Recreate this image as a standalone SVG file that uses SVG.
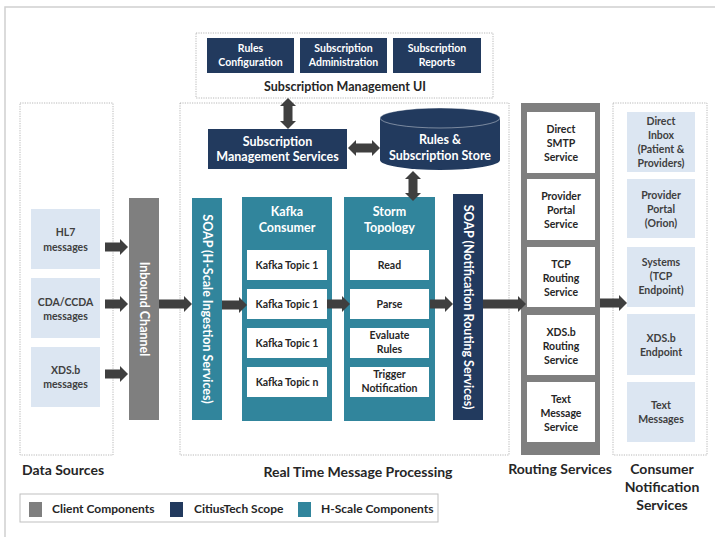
<svg xmlns="http://www.w3.org/2000/svg" width="715" height="537" viewBox="0 0 715 537">
<style>
text{font-family:Lato,"Open Sans","Liberation Sans",sans-serif;font-weight:bold;text-anchor:middle}
.w{fill:#ffffff}
.d{fill:#404040}
.k{fill:#262626}
.s{font-size:10.5px}
.m{font-size:12.5px}
.l{font-size:14px}
.navy{fill:#223A5E}
.teal{fill:#31859C}
.gray{fill:#7F7F7F}
.lb{fill:#DCE6F2}
.wb{fill:#ffffff}
.dot{fill:#ffffff;stroke:#A6A6A6;stroke-width:0.8;stroke-dasharray:1.2 1.2}
.arr{fill:#3F3F3F}
</style>
<rect x="5" y="7" width="720" height="540" fill="#ffffff" stroke="#D0D0D0" stroke-width="1.5"/>

<g id="data-sources">
<rect class="dot" x="20" y="103" width="93" height="352"/>
<g id="hl7"><rect class="lb" x="31" y="209" width="69" height="60"/><text class="s d" x="65.5" y="236">HL7</text><text class="s d" x="65.5" y="251">messages</text></g>
<g id="cda"><rect class="lb" x="31" y="278" width="69" height="60"/><text class="s d" x="65.5" y="306">CDA/CCDA</text><text class="s d" x="65.5" y="320">messages</text></g>
<g id="xds"><rect class="lb" x="31" y="347" width="69" height="60"/><text class="s d" x="65.5" y="374">XDS.b</text><text class="s d" x="65.5" y="388">messages</text></g>
<text class="l k" x="63" y="475">Data Sources</text>
</g>

<g id="inbound-channel">
<rect class="gray" x="129" y="198" width="30" height="222"/>
<text class="m w" transform="translate(144,309) rotate(90)" dy="4.5">Inbound Channel</text>
</g>

<g id="sub-ui">
<rect class="dot" x="196" y="33" width="297" height="65"/>
<g id="rules-config"><rect class="navy" x="207" y="38" width="87" height="35"/><text class="s w" x="250.5" y="52">Rules</text><text class="s w" x="250.5" y="66">Configuration</text></g>
<g id="sub-admin"><rect class="navy" x="300" y="38" width="87" height="35"/><text class="s w" x="343.5" y="52">Subscription</text><text class="s w" x="343.5" y="66">Administration</text></g>
<g id="sub-reports"><rect class="navy" x="393" y="38" width="88" height="35"/><text class="s w" x="437" y="52">Subscription</text><text class="s w" x="437" y="66">Reports</text></g>
<text class="m k" x="345" y="91">Subscription Management UI</text>
</g>

<g id="rtmp">
<rect class="dot" x="180" y="103" width="329" height="352"/>
<text class="l k" x="358" y="477">Real Time Message Processing</text>
</g>

<g id="sms">
<rect class="navy" x="208" y="129" width="139" height="40"/>
<text class="m w" x="277.5" y="146">Subscription</text>
<text class="m w" x="277.5" y="161">Management Services</text>
</g>

<g id="store">
<path class="navy" d="M380,118 A60,10 0 0 1 500,118 V160 A60,10 0 0 1 380,160 Z"/>
<ellipse cx="440" cy="118" rx="60" ry="10" fill="none" stroke="#ffffff" stroke-opacity="0.5" stroke-width="0.8"/>
<text class="m w" x="440" y="144">Rules &amp;</text>
<text class="m w" x="440" y="160">Subscription Store</text>
</g>

<g id="soap-ingest">
<rect class="teal" x="192" y="198" width="30" height="222"/>
<text class="m w" transform="translate(207,309) rotate(90)" dy="4.5">SOAP (H-Scale Ingestion Services)</text>
</g>

<g id="kafka">
<rect class="teal" x="242" y="197" width="90" height="224"/>
<text class="m w" x="287" y="216">Kafka</text>
<text class="m w" x="287" y="232">Consumer</text>
<rect class="wb" x="247" y="250" width="80" height="30"/><text class="s k" x="287" y="269">Kafka Topic 1</text>
<rect class="wb" x="247" y="289" width="80" height="30"/><text class="s k" x="287" y="308">Kafka Topic 1</text>
<rect class="wb" x="247" y="328" width="80" height="30"/><text class="s k" x="287" y="347">Kafka Topic 1</text>
<rect class="wb" x="247" y="367" width="80" height="30"/><text class="s k" x="287" y="386">Kafka Topic n</text>
</g>

<g id="storm">
<rect class="teal" x="344" y="197" width="91" height="224"/>
<text class="m w" x="389.5" y="216">Storm</text>
<text class="m w" x="389.5" y="232">Topology</text>
<rect class="wb" x="350" y="250" width="79" height="30"/><text class="s k" x="389.5" y="269">Read</text>
<rect class="wb" x="350" y="289" width="79" height="30"/><text class="s k" x="389.5" y="308">Parse</text>
<rect class="wb" x="350" y="328" width="79" height="30"/><text class="s k" x="389.5" y="339">Evaluate</text><text class="s k" x="389.5" y="353">Rules</text>
<rect class="wb" x="350" y="367" width="79" height="30"/><text class="s k" x="389.5" y="378">Trigger</text><text class="s k" x="389.5" y="392">Notification</text>
</g>

<g id="soap-notif">
<rect class="navy" x="453" y="194" width="30" height="226"/>
<text class="m w" transform="translate(468,307) rotate(90)" dy="4.5">SOAP (Notification Routing Services)</text>
</g>

<g id="routing">
<rect class="gray" x="521" y="103" width="79" height="352"/>
<rect class="wb" x="527" y="112" width="68" height="61"/>
<text class="s k" x="561" y="133">Direct</text><text class="s k" x="561" y="147">SMTP</text><text class="s k" x="561" y="161">Service</text>
<rect class="wb" x="527" y="179" width="68" height="61"/>
<text class="s k" x="561" y="200">Provider</text><text class="s k" x="561" y="214">Portal</text><text class="s k" x="561" y="228">Service</text>
<rect class="wb" x="527" y="247" width="68" height="60"/>
<text class="s k" x="561" y="268">TCP</text><text class="s k" x="561" y="282">Routing</text><text class="s k" x="561" y="296">Service</text>
<rect class="wb" x="527" y="315" width="68" height="60"/>
<text class="s k" x="561" y="336">XDS.b</text><text class="s k" x="561" y="350">Routing</text><text class="s k" x="561" y="364">Service</text>
<rect class="wb" x="527" y="382" width="68" height="60"/>
<text class="s k" x="561" y="403">Text</text><text class="s k" x="561" y="417">Message</text><text class="s k" x="561" y="431">Service</text>
<text class="l k" x="560" y="474">Routing Services</text>
</g>

<g id="consumer">
<rect class="dot" x="613" y="103" width="94" height="352"/>
<rect class="lb" x="627" y="112" width="68" height="60"/>
<text class="s d" x="661" y="125">Direct</text><text class="s d" x="661" y="139">Inbox</text><text class="s d" x="661" y="153">(Patient &amp;</text><text class="s d" x="661" y="167">Providers)</text>
<rect class="lb" x="627" y="179" width="68" height="59"/>
<text class="s d" x="661" y="199">Provider</text><text class="s d" x="661" y="213">Portal</text><text class="s d" x="661" y="227">(Orion)</text>
<rect class="lb" x="627" y="247" width="68" height="60"/>
<text class="s d" x="661" y="266">Systems</text><text class="s d" x="661" y="280">(TCP</text><text class="s d" x="661" y="294">Endpoint)</text>
<rect class="lb" x="627" y="314" width="68" height="61"/>
<text class="s d" x="661" y="342">XDS.b</text><text class="s d" x="661" y="356">Endpoint</text>
<rect class="lb" x="627" y="382" width="68" height="60"/>
<text class="s d" x="661" y="409">Text</text><text class="s d" x="661" y="423">Messages</text>
<text class="l k" x="662" y="474">Consumer</text>
<text class="l k" x="662" y="492">Notification</text>
<text class="l k" x="662" y="510">Services</text>
</g>

<g id="connectors">
<path class="arr" d="M105,242.5 H120 V239 L128,247 L120,255 V251.5 H105 Z"/>
<path class="arr" d="M105,299.5 H120 V296 L128,304 L120,312 V308.5 H105 Z"/>
<path class="arr" d="M105,369.5 H120 V366 L128,374 L120,382 V378.5 H105 Z"/>
<path class="arr" d="M159,299.5 H184 V296 L192,304 L184,312 V308.5 H159 Z"/>
<path class="arr" d="M222,300.5 H239 V297 L247,305 L239,313 V309.5 H222 Z"/>
<path class="arr" d="M327,299.5 H342 V296 L350,304 L342,312 V308.5 H327 Z"/>
<path class="arr" d="M430,299.5 H445 V296 L453,304 L445,312 V308.5 H430 Z"/>
<path class="arr" d="M483,299.5 H518 V296 L526,304 L518,312 V308.5 H483 Z"/>
<path class="arr" d="M600,298.5 H619 V295 L627,303 L619,311 V307.5 H600 Z"/>
<path class="arr" d="M288,98 L296,106 H292.5 V121 H296 L288,129 L280,121 H283.5 V106 H280 Z"/>
<path class="arr" d="M348,148 L356,140 V143.5 H372 V140 L380,148 L372,156 V152.5 H356 V156 Z"/>
<path class="arr" d="M413,171 L421,179 H417.5 V193 H421 L413,201 L405,193 H408.5 V179 H405 Z"/>
</g>

<g id="legend">
<rect x="20" y="494" width="418" height="28" fill="#ffffff" stroke="#BFBFBF" stroke-width="1"/>
<rect class="gray" x="29" y="502" width="13" height="15"/>
<text class="k" x="52" y="513" style="font-size:12px;text-anchor:start">Client Components</text>
<rect class="navy" x="170" y="502" width="13" height="15"/>
<text class="k" x="194" y="513" style="font-size:12px;text-anchor:start">CitiusTech Scope</text>
<rect class="teal" x="298" y="502" width="13" height="15"/>
<text class="k" x="321" y="513" style="font-size:12px;text-anchor:start">H-Scale Components</text>
</g>
</svg>
